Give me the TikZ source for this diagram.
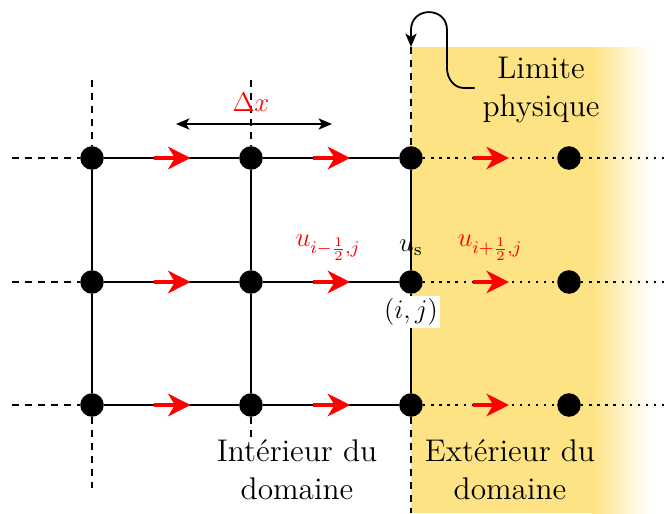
\documentclass[tikz,border=0pt]{standalone}
\usetikzlibrary{arrows.meta,calc}
\definecolor{zoneyel}{RGB}{254,227,132}
\begin{document}
\begin{tikzpicture}[x=0.0157cm,y=-0.0157cm,
  dot/.style={circle,fill=black,inner sep=0pt,minimum size=0.37cm},
  gridline/.style={line width=0.6pt},
  dashline/.style={line width=0.8pt,dash pattern=on 3pt off 2.8pt},
  dotline/.style={line width=1pt,dash pattern=on 1pt off 2.6pt},
  flux/.style={red,line width=2pt,-{Stealth[length=10pt,width=10pt,inset=3pt]}},
  tip/.style={-{Stealth[length=6pt,width=5pt,inset=1.5pt]}},
  lbl/.style={font=\fontsize{14}{17}\selectfont,align=center},
  mlbl/.style={font=\fontsize{12}{14}\selectfont,inner sep=1pt}]
\useasboundingbox (0,0) rectangle (667,513);
% exterior zone
\fill[zoneyel] (411,47) rectangle (593,513);
\shade[left color=zoneyel,right color=white,shading angle=90] (592,47) rectangle (650,513);
% dots
\foreach \c/\x in {1/92,2/251,3/411,4/569}{
  \foreach \r/\y in {1/158,2/282,3/405}{
    \node[dot] (n\c\r) at (\x,\y) {};
  }}
% free-end coordinates
\foreach \r/\y in {1/158,2/282,3/405}{
  \coordinate (L\r) at (12,\y);
  \coordinate (R\r) at (667,\y);
}
\coordinate (t1) at (92,80);
\coordinate (t2) at (251,80);
\coordinate (t3) at (411,47);
\coordinate (b1) at (92,488);
\coordinate (b2) at (251,470);
\coordinate (b3) at (411,513);
% solid grid
\foreach \r in {1,2,3}{
  \draw[gridline] (n1\r) -- (n2\r) -- (n3\r);
  \draw[dashline] (L\r) -- (n1\r);
  \draw[dotline] (n3\r) -- (n4\r) -- (R\r);
}
\foreach \c in {1,2,3}{
  \draw[gridline] (n\c1) -- (n\c2) -- (n\c3);
  \draw[dashline] (t\c) -- (n\c1);
  \draw[dashline] (n\c3) -- (b\c);
}
% red flux arrows
\foreach \r in {1,2,3}{
  \foreach \a/\b in {1/2,2/3,3/4}{
    \draw[flux] ($(n\a\r)!0.39!(n\b\r)$) -- ($(n\a\r)!0.62!(n\b\r)$);
  }}
% Delta x
\coordinate (dxa) at (176,124);
\coordinate (dxb) at (332,124);
\draw[line width=0.8pt,{Stealth[length=6pt,width=5pt,inset=1.5pt]}-{Stealth[length=6pt,width=5pt,inset=1.5pt]}] (dxa) -- (dxb);
\node[mlbl,red] (dx) at (251,102) {$\Delta x$};
% labels
\node[lbl] (lim) at (541,90) {Limite\\physique};
\draw[line width=0.8pt,tip] (lim.west |- 0,88) -- (464,88) to[out=180,in=-90] (447,68) -- (447,30) to[out=90,in=90,looseness=1.7] (411,30) -- (t3);
\node[mlbl,red] (um) at (328,248) {$u_{i-\frac{1}{2},j}$};
\node[mlbl] (us) at (411,248) {$u_\mathrm{s}$};
\node[mlbl,red] (up) at (490,248) {$u_{i+\frac{1}{2},j}$};
\node[mlbl,fill=white] (ij) at (411,312) {$(i,j)$};
\node[lbl,fill=white,inner sep=1pt] (int) at (297,470) {Intérieur du\\domaine};
\node[lbl] (ext) at (510,470) {Extérieur du\\domaine};
\end{tikzpicture}
\end{document}
